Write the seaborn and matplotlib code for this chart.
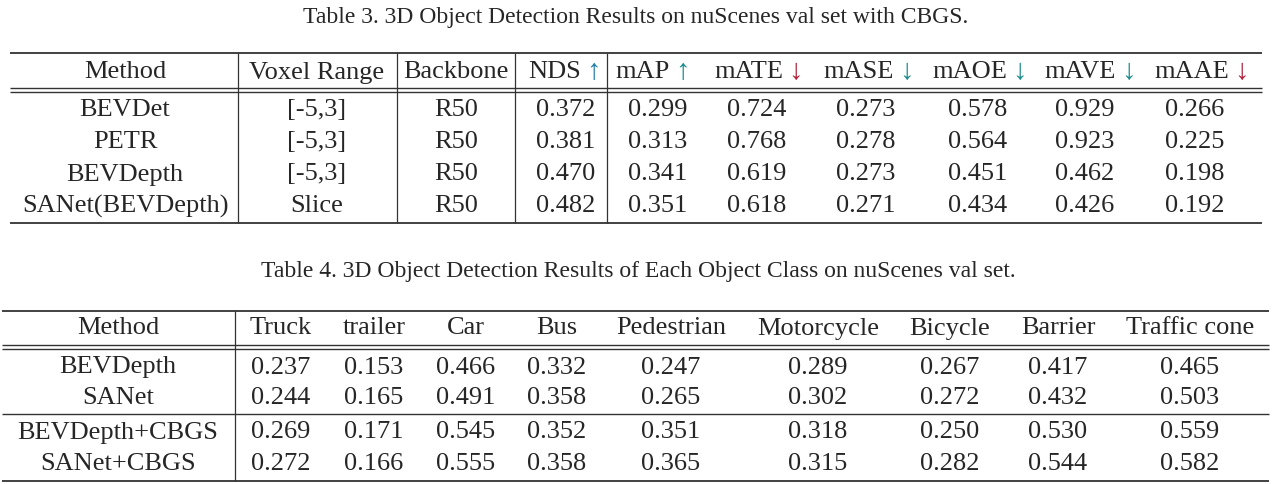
import matplotlib
matplotlib.use('Agg')
import matplotlib.pyplot as plt
import seaborn as sns
sns.set_style('white')
plt.rcParams['font.family'] = ['Liberation Serif', 'DejaVu Serif']

# ---- Table 3 data ----
t3_caption = 'Table 3. 3D Object Detection Results on nuScenes val set with CBGS.'
t3_methods = ['BEVDet', 'PETR', 'BEVDepth', 'SANet(BEVDepth)']
t3_voxel = ['[-5,3]', '[-5,3]', '[-5,3]', 'Slice']
t3_backbone = ['R50', 'R50', 'R50', 'R50']
t3_metrics = ['NDS', 'mAP', 'mATE', 'mASE', 'mAOE', 'mAVE', 'mAAE']
t3_arrows = ['\u2191', '\u2191', '\u2193', '\u2193', '\u2193', '\u2193', '\u2193']
t3_arrow_colors = ['#1f7fa8', '#1a8c8c', '#b0203c', '#1a8c8c', '#1a8c8c', '#1a8c8c', '#b0203c']
nds = [0.372, 0.381, 0.470, 0.482]
map_ = [0.299, 0.313, 0.341, 0.351]
mate = [0.724, 0.768, 0.619, 0.618]
mase = [0.273, 0.278, 0.273, 0.271]
maoe = [0.578, 0.564, 0.451, 0.434]
mave = [0.929, 0.923, 0.462, 0.426]
maae = [0.266, 0.225, 0.198, 0.192]

# ---- Table 4 data ----
t4_caption = 'Table 4. 3D Object Detection Results of Each Object Class on nuScenes val set.'
t4_methods = ['BEVDepth', 'SANet', 'BEVDepth+CBGS', 'SANet+CBGS']
t4_classes = ['Truck', 'trailer', 'Car', 'Bus', 'Pedestrian', 'Motorcycle',
              'Bicycle', 'Barrier', 'Traffic cone']
truck = [0.237, 0.244, 0.269, 0.272]
trailer = [0.153, 0.165, 0.171, 0.166]
car = [0.466, 0.491, 0.545, 0.555]
bus = [0.332, 0.358, 0.352, 0.358]
pedestrian = [0.247, 0.265, 0.351, 0.365]
motorcycle = [0.289, 0.302, 0.318, 0.315]
bicycle = [0.267, 0.272, 0.250, 0.282]
barrier = [0.417, 0.432, 0.530, 0.544]
traffic_cone = [0.465, 0.503, 0.559, 0.582]

# layout (pixel coordinates of the figure)
FS = 19
CAP_FS = 17
LINE_C = '#333333'
BL = 8.5  # baseline offset below row centre


def cell(x, y, s, **kw):
    ax.text(x, y + BL, s, ha=kw.pop('ha', 'center'), va='baseline', fontsize=kw.pop('fontsize', FS), **kw)


fig = plt.figure(figsize=(12.72, 4.84), dpi=100)
ax = fig.add_axes([0, 0, 1, 1])
ax.set_xlim(0, 1272)
ax.set_ylim(484, 0)
ax.axis('off')

# ---------------- Table 3 ----------------
cell(636, 14, t3_caption, fontsize=CAP_FS)
x0, x1 = 10, 1262
ax.hlines([53], x0, x1, color=LINE_C, lw=1.3)
ax.hlines([88, 92], x0, x1, color=LINE_C, lw=1.0)
ax.hlines([223], x0, x1, color=LINE_C, lw=1.3)
ax.vlines([238, 397, 515, 607], 53, 223, color=LINE_C, lw=0.9)

hdr_y = 70
cell(125, hdr_y, 'Method')
cell(317, hdr_y, 'Voxel Range')
cell(456, hdr_y, 'Backbone')
name_end = [581, 670, 783, 894, 1007, 1116, 1229]
for name, arr, col, xe in zip(t3_metrics, t3_arrows, t3_arrow_colors, name_end):
    cell(xe, hdr_y, name, ha='right')
    cell(xe + 5, hdr_y, arr, ha='left', color=col, fontsize=FS * 1.1)

row_y3 = [108, 140, 172, 204]
val_x3 = [566, 658, 757, 866, 978, 1085, 1195]
cols3 = [nds, map_, mate, mase, maoe, mave, maae]
for i, y in enumerate(row_y3):
    cell(125, y, t3_methods[i])
    cell(317, y, t3_voxel[i])
    cell(456, y, t3_backbone[i])
    for xc, vals in zip(val_x3, cols3):
        cell(xc, y, f'{vals[i]:.3f}')

# ---------------- Table 4 ----------------
cell(638, 268, t4_caption, fontsize=CAP_FS)
x0, x1 = 2, 1269
ax.hlines([311], x0, x1, color=LINE_C, lw=1.3)
ax.hlines([345, 349], x0, x1, color=LINE_C, lw=1.0)
ax.hlines([414], x0, x1, color=LINE_C, lw=1.0)
ax.hlines([481], x0, x1, color=LINE_C, lw=1.3)
ax.vlines([235], 311, 481, color=LINE_C, lw=0.9)

hdr_y4 = 326
cls_x = [281, 374, 466, 557, 671, 818, 950, 1058, 1190]
cell(118, hdr_y4, 'Method')
for name, xc in zip(t4_classes, cls_x):
    cell(xc, hdr_y4, name)

row_y4 = [365, 396, 430, 462]
cols4 = [truck, trailer, car, bus, pedestrian, motorcycle, bicycle, barrier, traffic_cone]
for i, y in enumerate(row_y4):
    cell(118, y, t4_methods[i])
    for xc, vals in zip(cls_x, cols4):
        cell(xc, y, f'{vals[i]:.3f}')

fig.savefig('out.png', dpi=100, facecolor='white')
